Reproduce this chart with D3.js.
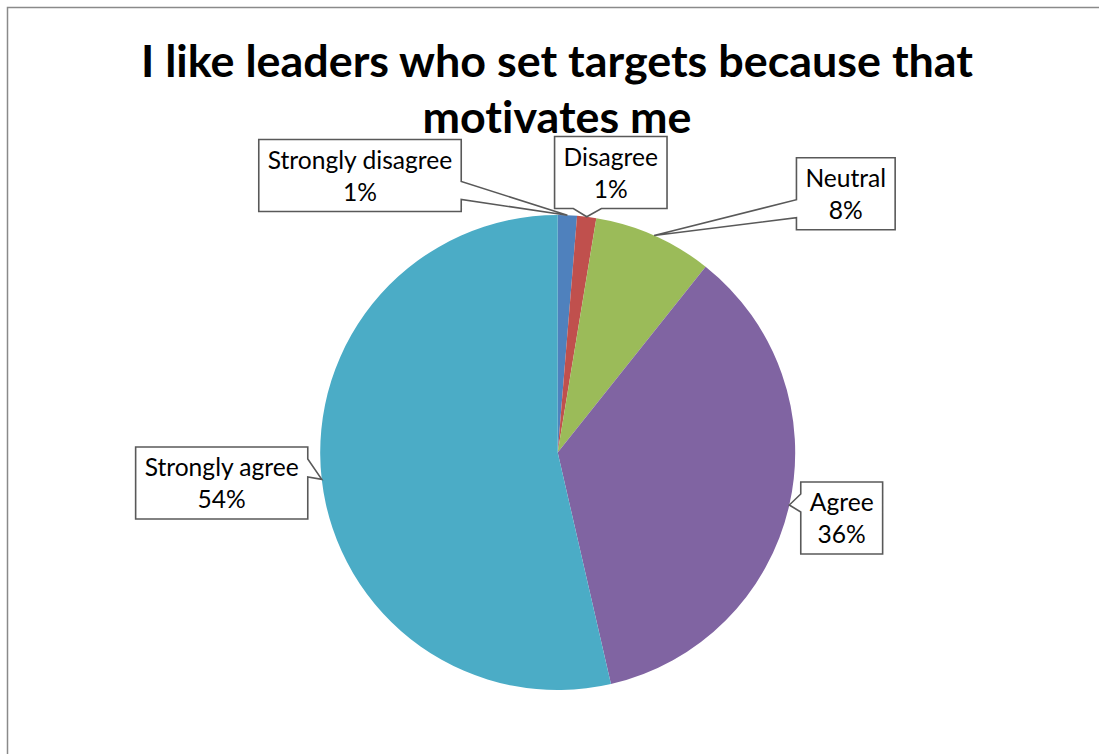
<!DOCTYPE html>
<html>
<head>
<meta charset="utf-8">
<script src="https://cdn.jsdelivr.net/npm/d3@7"></script>
<style>
  html, body { margin: 0; padding: 0; background: #fff; }
  svg { display: block; }
  text { font-family: Lato, "Open Sans", sans-serif; fill: #000; font-variant-ligatures: none; }
</style>
</head>
<body>
<svg id="chart" width="1099" height="754"></svg>
<script>
// Survey responses (share of respondents, %)
const categories = ["Strongly disagree", "Disagree", "Neutral", "Agree", "Strongly agree"];
const values = [1.3, 1.3, 8.1, 35.7, 53.6];
const colors = ["#4F81BD", "#C0504D", "#9BBB59", "#8064A2", "#4BACC6"];
const titleLines = ["I like leaders who set targets because that", "motivates me"];

const W = 1099, H = 754;
const svg = d3.select("#chart");

// Chart frame (only the top and left edges fall inside the page)
svg.append("rect")
  .attr("x", 7.5).attr("y", 7.5)
  .attr("width", W + 20).attr("height", H + 20)
  .attr("fill", "#fff")
  .attr("stroke", "#8a8a8a").attr("stroke-width", 1.5);

// Title, set in a condensed bold face
const titleWidths = [832, 269];
const title = svg.append("text")
  .attr("text-anchor", "middle")
  .attr("font-weight", 700)
  .attr("font-size", 44);
titleLines.forEach((line, i) => {
  title.append("tspan")
    .attr("x", 557).attr("y", 77 + i * 56)
    .attr("textLength", titleWidths[i])
    .attr("lengthAdjust", "spacingAndGlyphs")
    .text(line);
});

// Pie
const cx = 557.7, cy = 452.5, R = 237.5;
const g = svg.append("g").attr("transform", `translate(${cx},${cy})`);
const total = d3.sum(values);
const data = categories.map((c, i) => ({ name: c, value: values[i], color: colors[i] }));
const pie = d3.pie().sort(null).value(d => d.value);
const arcs = pie(data);
const arc = d3.arc().innerRadius(0).outerRadius(R);

g.selectAll("path.slice")
  .data(arcs)
  .join("path")
  .attr("class", "slice")
  .attr("d", arc)
  .attr("fill", d => d.data.color);

// Callout label boxes: centre position of each box in page coordinates
const boxCentres = [
  [360, 175.5],
  [610.8, 172.5],
  [845.8, 193.7],
  [841.7, 518],
  [221.7, 483]
];
const fmt = v => Math.round(v / total * 100) + "%";
const boxH = 72, padX = 9;

const labels = svg.append("g");
arcs.forEach((a, i) => {
  const mid = (a.startAngle + a.endAngle) / 2;
  const tipX = cx + R * Math.sin(mid);
  const tipY = cy - R * Math.cos(mid);
  const [bx, by] = boxCentres[i];

  const lg = labels.append("g");
  const t = lg.append("text")
    .attr("text-anchor", "middle")
    .attr("font-size", 24.6);
  t.append("tspan").attr("x", bx).attr("y", by - 7).text(a.data.name);
  t.append("tspan").attr("x", bx).attr("y", by + 25).text(fmt(a.data.value));
  const tw = t.node().getBBox().width;
  const w = tw + 2 * padX, h = boxH;
  const x0 = bx - w / 2, y0 = by - h / 2, x1 = x0 + w, y1 = y0 + h;

  // Rectangle callout with a wedge pointing at the slice
  const dx = tipX - bx, dy = tipY - by;
  const vertical = Math.abs(dy) > Math.abs(dx) * h / w;
  const p = d3.path();
  p.moveTo(x0, y0);
  if (vertical && dy < 0) {
    const a1 = x0 + w * (dx > 0 ? 7 : 2) / 12, a2 = x0 + w * (dx > 0 ? 10 : 5) / 12;
    p.lineTo(a1, y0); p.lineTo(tipX, tipY); p.lineTo(a2, y0);
  }
  p.lineTo(x1, y0);
  if (!vertical && dx > 0) {
    const a1 = y0 + h * (dy > 0 ? 7 : 2) / 12, a2 = y0 + h * (dy > 0 ? 10 : 5) / 12;
    p.lineTo(x1, a1); p.lineTo(tipX, tipY); p.lineTo(x1, a2);
  }
  p.lineTo(x1, y1);
  if (vertical && dy > 0) {
    const a1 = x0 + w * (dx > 0 ? 7 : 2) / 12, a2 = x0 + w * (dx > 0 ? 10 : 5) / 12;
    p.lineTo(a2, y1); p.lineTo(tipX, tipY); p.lineTo(a1, y1);
  }
  p.lineTo(x0, y1);
  if (!vertical && dx < 0) {
    const a1 = y0 + h * (dy > 0 ? 7 : 2) / 12, a2 = y0 + h * (dy > 0 ? 10 : 5) / 12;
    p.lineTo(x0, a2); p.lineTo(tipX, tipY); p.lineTo(x0, a1);
  }
  p.closePath();

  lg.insert("path", "text")
    .attr("d", p.toString())
    .attr("fill", "#fff")
    .attr("stroke", "#595959")
    .attr("stroke-width", 1.6)
    .attr("stroke-linejoin", "miter");
});
</script>
</body>
</html>
